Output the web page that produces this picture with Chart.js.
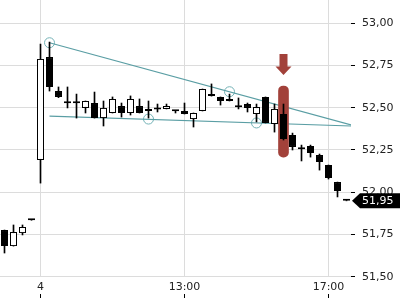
<!DOCTYPE html>
<html>
<head>
<meta charset="utf-8">
<script src="https://cdn.jsdelivr.net/npm/chart.js@4/dist/chart.umd.min.js"></script>
<style>
  html, body { margin: 0; padding: 0; background: #fff; }
  #wrap { width: 400px; height: 300px; }
</style>
</head>
<body>
<div id="wrap"><canvas id="candleChart"></canvas></div>
<script>
// 15 min candles, label only on a few slots
const xLabels = ['', '', '', '', '4', '', '', '', '', '', '', '', '', '', '', '', '', '', '', '',
                 '13:00', '', '', '', '', '', '', '', '', '', '', '', '', '', '', '', '17:00', '', ''];

const opens  = [51.776, 51.681, 51.758, 51.836, 52.191, 52.800, 52.599, 52.529, 52.529, 52.499,
                52.528, 52.439, 52.469, 52.510, 52.469, 52.510, 52.481, 52.497, 52.493, 52.482,
                52.481, 52.433, 52.481, 52.571, 52.564, 52.552, 52.505, 52.522, 52.463, 52.564,
                52.404, 52.463, 52.339, 52.257, 52.274, 52.220, 52.161, 52.060, 51.951];
const highs  = [51.776, 51.806, 51.806, 51.836, 52.877, 52.889, 52.623, 52.623, 52.581, 52.540,
                52.593, 52.540, 52.564, 52.528, 52.570, 52.552, 52.540, 52.522, 52.522, 52.482,
                52.528, 52.469, 52.611, 52.641, 52.564, 52.581, 52.558, 52.528, 52.522, 52.564,
                52.522, 52.522, 52.350, 52.279, 52.279, 52.226, 52.161, 52.060, 51.951];
const lows   = [51.640, 51.681, 51.747, 51.834, 52.054, 52.599, 52.560, 52.499, 52.439, 52.469,
                52.439, 52.392, 52.469, 52.445, 52.457, 52.469, 52.439, 52.475, 52.493, 52.469,
                52.463, 52.386, 52.481, 52.569, 52.516, 52.540, 52.493, 52.475, 52.416, 52.410,
                52.356, 52.309, 52.250, 52.185, 52.208, 52.131, 52.078, 51.972, 51.949];
const closes = [51.681, 51.764, 51.794, 51.834, 52.789, 52.623, 52.564, 52.527, 52.527, 52.540,
                52.439, 52.499, 52.552, 52.469, 52.552, 52.469, 52.493, 52.490, 52.510, 52.480,
                52.463, 52.469, 52.611, 52.569, 52.540, 52.540, 52.503, 52.499, 52.504, 52.410,
                52.493, 52.315, 52.268, 52.255, 52.232, 52.179, 52.084, 52.007, 51.949];

const yTicks = [51.50, 51.75, 52.00, 52.25, 52.50, 52.75, 53.00];

// triangle trend lines and the points where price touched them
const upperTrend = [{ x: 5, y: 52.885 }, { x: 38.5, y: 52.398 }];
const lowerTrend = [{ x: 5, y: 52.451 }, { x: 38.5, y: 52.392 }];
const touchPoints = [{ x: 5, y: 52.885 }, { x: 16, y: 52.433 }, { x: 25, y: 52.595 }, { x: 28, y: 52.410 }];

// breakout marker
const highlightIndex = 31;
const highlightRange = [52.208, 52.629];
const arrowRange = [52.818, 52.694];

const TEAL = '#5a9ea4';
const RED = '#a2413a';

Chart.defaults.font.family = 'DejaVu Sans';

const noPad = (s) => { s.paddingTop = 0; s.paddingBottom = 0; s.paddingLeft = 0; s.paddingRight = 0; };

const overlayPlugin = {
    id: 'overlay',
    afterDraw(chart) {
        const ctx = chart.ctx;
        const xs = chart.scales.x;
        const ys = chart.scales.y;
        ctx.save();

        // down arrow over the breakout candle
        const cx = xs.getPixelForValue(highlightIndex);
        const top = ys.getPixelForValue(arrowRange[0]);
        const tip = ys.getPixelForValue(arrowRange[1]);
        ctx.fillStyle = RED;
        ctx.beginPath();
        ctx.moveTo(cx - 4, top);
        ctx.lineTo(cx + 4, top);
        ctx.lineTo(cx + 4, tip - 8.5);
        ctx.lineTo(cx + 8, tip - 8.5);
        ctx.lineTo(cx, tip);
        ctx.lineTo(cx - 8, tip - 8.5);
        ctx.lineTo(cx - 4, tip - 8.5);
        ctx.closePath();
        ctx.fill();

        // small marks under x labels
        ctx.strokeStyle = '#000';
        ctx.lineWidth = 1;
        xLabels.forEach((l, i) => {
            if (!l) return;
            const px = Math.floor(xs.getPixelForValue(i)) + 0.5;
            ctx.beginPath();
            ctx.moveTo(px, xs.bottom - 6);
            ctx.lineTo(px, xs.bottom - 2);
            ctx.stroke();
        });

        // last price tag
        const last = closes[closes.length - 1];
        const py = ys.getPixelForValue(last);
        const left = chart.chartArea.right + 1;
        ctx.fillStyle = '#000';
        ctx.beginPath();
        ctx.moveTo(left, py);
        ctx.lineTo(left + 8, py - 7.5);
        ctx.lineTo(chart.width, py - 7.5);
        ctx.lineTo(chart.width, py + 7.5);
        ctx.lineTo(left + 8, py + 7.5);
        ctx.closePath();
        ctx.fill();
        ctx.fillStyle = '#fff';
        ctx.font = '11px "DejaVu Sans"';
        ctx.textBaseline = 'middle';
        ctx.textAlign = 'left';
        ctx.fillText(last.toFixed(2).replace('.', ','), left + 10, py + 0.5);

        ctx.restore();
    }
};

new Chart(document.getElementById('candleChart'), {
    type: 'bar',
    data: {
        labels: xLabels,
        datasets: [
            {
                label: 'body',
                data: opens.map((o, i) => [o, closes[i]]),
                backgroundColor: closes.map((c, i) => c >= opens[i] ? '#fff' : '#000'),
                borderColor: '#000',
                borderWidth: 1,
                borderSkipped: false,
                barPercentage: 7 / 9,
                categoryPercentage: 1,
                minBarLength: 2,
                grouped: false,
                order: 0
            },
            {
                label: 'wick',
                data: lows.map((l, i) => [l, highs[i]]),
                backgroundColor: '#000',
                barThickness: 1,
                grouped: false,
                order: 1
            },
            {
                label: 'highlight',
                data: xLabels.map((_, i) => i === highlightIndex ? highlightRange : null),
                backgroundColor: RED,
                barThickness: 10,
                borderRadius: 5,
                borderSkipped: false,
                grouped: false,
                order: 2
            },
            {
                type: 'line',
                label: 'upper',
                xAxisID: 'xl',
                data: upperTrend,
                borderColor: TEAL,
                borderWidth: 1.2,
                pointRadius: 0,
                order: 3
            },
            {
                type: 'line',
                label: 'lower',
                xAxisID: 'xl',
                data: lowerTrend,
                borderColor: TEAL,
                borderWidth: 1.2,
                pointRadius: 0,
                order: 3
            },
            {
                type: 'line',
                label: 'touches',
                xAxisID: 'xl',
                data: touchPoints,
                showLine: false,
                pointRadius: 5,
                pointBorderWidth: 1,
                pointBorderColor: '#74b2b6',
                pointBackgroundColor: 'rgba(0,0,0,0)',
                order: 3
            }
        ]
    },
    options: {
        responsive: true,
        maintainAspectRatio: false,
        animation: false,
        layout: { padding: 0, autoPadding: false },
        plugins: { legend: { display: false }, tooltip: { enabled: false } },
        scales: {
            x: {
                type: 'category',
                offset: true,
                grid: {
                    offset: false,
                    drawTicks: false,
                    color: (c) => xLabels[c.index] ? '#dcdcdc' : 'rgba(0,0,0,0)'
                },
                border: { display: false },
                ticks: { autoSkip: false, maxRotation: 0, padding: 4, color: '#222', font: { size: 11 } },
                afterFit: (s) => { s.height = 23; noPad(s); }
            },
            xl: {
                type: 'linear',
                position: 'bottom',
                offset: false,
                bounds: 'data',
                min: -0.5,
                max: 38.5,
                display: false,
                afterDataLimits: (s) => { s.min = -0.5; s.max = 38.5; },
                afterFit: noPad
            },
            y: {
                position: 'right',
                min: 51.498,
                max: 53.138,
                afterBuildTicks: (s) => { s.ticks = yTicks.map(v => ({ value: v })); },
                grid: { color: '#dcdcdc', tickColor: '#000', tickLength: 4 },
                border: { display: false },
                ticks: {
                    padding: 7,
                    color: '#222',
                    font: { size: 11 },
                    callback: (v) => Number(v).toFixed(2).replace('.', ',')
                },
                afterFit: (s) => { s.width = 49; noPad(s); }
            }
        }
    },
    plugins: [overlayPlugin]
});
</script>
</body>
</html>
